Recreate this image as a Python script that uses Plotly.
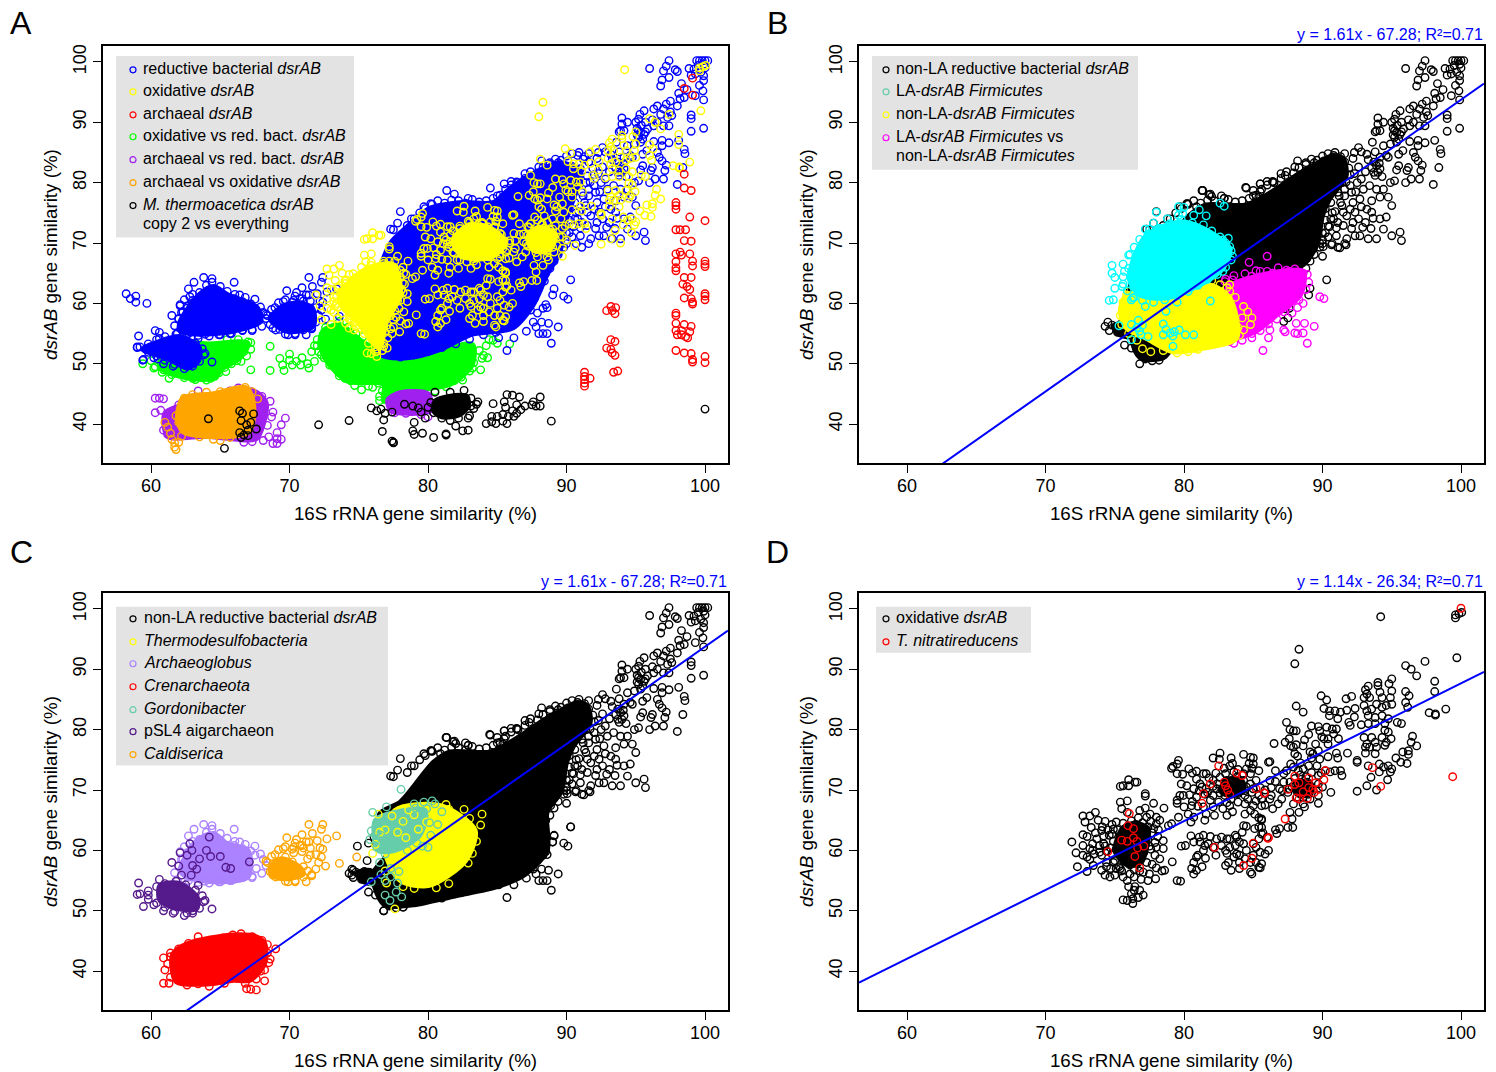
import plotly.graph_objects as go

# ---- values: (16S similarity, dsrAB similarity) ----
oxidative = [(71.9,61.4),(72.2,59.6),(72.3,57.3),(72.7,65.7),(73.2,65.7),(73.6,66.3),(72.85,64.7),(73.3,63.8),(73.8,65),(74.3,64.8),(74.8,64.3),(72.7,62.6),(73,62.3),(72.7,60.8),(72.7,59.2),(73,58.9),(73.2,58.5),(73.4,60),(73.45,57.5),(73,56.5),(74.05,63.3),(73.7,61.9),(74.2,61.1),(74.05,59.2),(74.05,56.7),(74.3,55.9),(74.65,55.6),(75,55.9),(75.4,68),(75.9,68.2),(75.5,66.9),(75.9,66.3),(75.4,70.6),(75.6,70.7),(76,70.7),(76,71.7),(76.45,71.3),(76.6,71.3),(77.2,69.4),(77.2,69),(77.8,67.8),(78.55,67),(77.2,67),(76.8,66.6),(77.55,66),(78,65.5),(78.25,65),(78.87,64.1),(79.1,64.4),(79.6,65.5),(78.15,63.4),(78.5,61.6),(78,60.5),(78.5,60.3),(77.9,59.2),(78.25,58.6),(78.6,56.7),(78.4,56.6),(79.15,58.1),(77.95,55.3),(79.5,55),(79.75,54.9),(77.5,56.1),(77.05,56.4),(77.05,52.6),(76.8,53.4),(76.3,51.2),(75.9,51.7),(75.6,51.8),(76.3,52),(76.2,52.8),(76.45,54),(76,54),(75.6,55.6),(76.1,56.1),(75.4,57),(74.9,58),(74.4,58),(74.8,59.4),
(75.1,60.2),(75.3,61.2),(75.4,62.4),(75.6,59.2),(75.6,60.5),(75.7,63.1),(75.8,58.2),(75.9,59.9),(75.9,62),(76,60.9),(76,63.7),(76.1,57.6),(76.1,58.7),(76.2,61.6),(76.3,60),(76.3,62.7),(76.4,59),(76.5,64.3),(76.5,61),(76.6,57.8),(76.7,60.1),(76.7,62.4),(76.8,63.5),(76.8,58.8),(76.9,61.3),(77,64.6),(77.1,59.7),(77.1,62.8),(77.2,60.9),(77.3,58),(77.4,63.9),(77.4,61.8),(77.6,60.2),(77.6,64.8),(77.7,62.9),(75.2,63.4),(74.9,61.5),(74.7,60.4),(74.6,62.5),(75,58.3),(75.3,57.3),(74.2,62.4),(73.9,60.8),(73.6,62.9),(74.4,59.9),(73.4,61.1),
(79.2,73.9),(79.5,74.3),(79.6,74.9),(79.1,73.6),(79.5,72.7),(79.9,72.6),(80.35,73.5),(80.6,72.8),(80.9,73.1),(81.4,72.7),(82.1,75.3),(82.6,76.1),(82.55,75.1),(83.4,75.3),(83.5,74.4),(84.3,75.9),(84.8,75.4),(85,75.3),(84.7,74.4),(85,74.3),(86.1,74.6),(85.4,73.2),(81.6,72.7),(83,72.7),(83.6,73),(84.3,72.7),(84.8,72.7),(80.9,71.8),(81.15,71),(81.6,70.2),(82.1,71.6),(82.6,72.1),(83.1,71.6),(83.8,72.1),(84.3,71.6),(84.8,71),(85.2,71.6),(84,70.5),(84.5,70.5),(83.4,70.2),(82.35,70.2),(82.1,69.1),(81.9,68.3),(82.5,68),(82.95,69.1),(83.4,68.5),(83.9,69.4),(84.4,69.1),(84.9,69.6),(85.4,69.1),(85.85,70),(86.2,71.6),(85.6,67.4),(85,67.4),(84.4,67.7),(83.9,68),(83.3,67.4),(82.8,66.9),(83.1,65.8),(82.2,65.8),(81.6,66),(81.4,67.2),(80.9,68.8),(80.7,70.2),(80.2,70.7),(79.8,71),(79.95,69.1),(79.7,69.1),(79.5,68.3),(79.5,67.8),(80,67.2),(80.55,67.4),(80.3,66),(80.7,65.5),(81.5,65),(80.5,64.7),(85.1,66),(85.4,65.4),(85.6,65),(84.3,64.1),(84.5,64),(83.8,62.2),(85.1,63.6),(85.4,63.9),(85.6,62.7),(85.4,61.9),(85,61.1),(86,62.2),(86.1,60),(85.85,59.4),
(80.5,62.4),(79.8,60.7),(80.1,60.8),(80.7,61.4),(81.1,62.2),(81.4,62.5),(81.9,62.3),(82.35,61.9),(82.7,62.2),(83.1,61.9),(83.3,61.9),(83.7,62.5),(84.2,63),(81.5,60.8),(81.15,61.4),(81.4,60),(81.75,61.1),(82.1,60.5),(82.7,60.8),(83,60),(83.3,60.5),(83.7,60.8),(84,61.4),(84.3,61.1),(83.8,59.4),(84,59.2),(84.5,60),(85.2,60.5),(85,59.2),(85.5,59.7),(85.6,57.8),(85.2,58),(85.4,57.2),(84.8,58),(84.4,58.6),(84,58),(83.6,58.9),(83.2,58),(83,57.5),(83.4,56.7),(84,57),(84.9,56.1),(84.8,56.4),(85.5,57.1),(80.9,58.9),(80.7,58),(80.55,57),(80.7,56.1),(80.9,56.7),(81.3,57.3),(81.55,58.7),(81,59.2),
(82.4,71),(82.8,70.3),(83.2,70.8),(83.6,69.9),(84,71),(84.4,69.9),(83,69.6),(83.6,71.3),(82.6,69.5),(81.3,70.5),(81.7,69.6),(88.2,70.4),(88.7,70.8),(89,69.3),(88.4,72.5),(87.8,70.5),(88.9,71.3),(88.6,68.8),
(86.2,74.7),(86.6,73.2),(87.2,72.7),(87.4,73.2),(87.9,73.8),(88.25,73.2),(88.6,73.5),(89,74),(89.6,74),(90.2,73.2),(89.7,72.4),(90.55,73),(90.9,73.2),(91.3,73.2),(91.4,72.4),(87.2,71.3),(86.3,70.4),(87.65,71.3),(88.5,71.8),(89.7,71),(90.6,69.6),(89.7,69.1),(89.7,67.8),(89.1,68.5),(88.6,67.7),(87.9,67.7),(87.65,66.3),(88.3,66.3),(88.7,67.2),(87.05,68.5),(86.8,67.7),(86.4,66.9),(85.85,67.5),(86.2,68.5),(85.6,68.5),(87.5,69.6),(88.15,68.8),(88.4,69.9),(87.8,65.2),(87.5,63.8),(87.85,63.8),(86.9,63.6),(86.6,63.4),(86.7,62.8),(85.6,65.2),(85.6,63.8),(85.7,62.9),
(86.5,77.7),(87.3,77.9),(87.6,78.5),(87.4,81.2),(87.65,80),(87.9,79.8),(88.1,79.8),(88.1,83.9),(88.6,82.9),(87.7,77.3),(88.1,77.5),(87.9,77.1),(88,76),(88.2,75.6),(88.7,78.3),(88.6,77.3),(89,79.2),(89.2,80.6),(89.1,76.3),(89.3,76),(89.7,76.5),(90.4,75.5),(91,76.1),(91.1,75.3),(89.8,75.1),(91.8,76.1),(92.5,74.9),(92.5,74.6),(89.5,77.6),(90.1,78.5),(90.4,78.5),(90.4,77.6),(89.95,78.8),(89.7,80.5),(89.8,79.8),(90.3,80.4),(90.7,80.1),(91,80.1),(91.15,78.5),(91.9,81.2),(92,80.7),(90.8,79.3),(92.8,80.8),(93.3,81),(93.8,81),(94.5,81),(93.8,77.9),(93.2,77.6),(94.6,77.9),(94.5,77.4),(93.9,77.1),(93.4,77.1),(93.1,77.1),(93.1,76.1),(93.8,76),(93.55,78.7),(93,78.7),(94.3,78.7),(94.95,78.5),(95.4,81.2),(95.7,81),(94.75,79.6),(94.5,79.9),
(89.9,85.6),(90.3,84.9),(91.7,85.1),(92.1,85.5),(90.1,83.5),(90.5,83.1),(90.9,83.1),(91.3,82.9),(91.75,83.2),(92.35,83.5),(90.5,82.3),(91.1,81.8),(92.3,82.1),(93,85.3),(93.3,87.2),(93.1,86.6),(93.2,85.9),(93.4,85.3),(94.15,86.2),(95,86.4),(94.9,85.3),(96,86.3),(96.25,85.6),(96,84.5),(96.15,83.7),(93,84),(93.2,83.1),(93.55,83.4),(93.9,84.2),(94.3,83.7),(94.6,84),(95,84.2),(93.8,82),(94.3,82.3),(94.75,81.8),(93.3,82.3),(94.3,85.3),(94,87.8),(94,87.3),(94.8,87.6),(95,88.4),
(96.5,78.9),(96.4,77.9),(96.8,77.3),(95.8,76.3),(96.2,76.5),(96.2,75.9),(95.3,75.3),(95.65,74.6),(96.1,74.4),(94.1,74.3),(94.4,73.8),(94.75,74),(95,73.5),(94.9,73),(93.3,74),(94.1,73),(93.5,72.1),(94.7,71.7),(93.2,70.7),(93.9,70),(92.5,69.8),
(88.3,93.3),(88,90.9),(94.2,98.7),(96,90.6),(96.4,90),(96.8,88.9),(97.4,91.3),(98.1,88),(98.1,86.3),(98.9,83.4),(97.7,82.8),(98.15,82.6),(98.15,82.4),(99.7,91.9),(99.6,99),(99.6,98.5),(99.85,99.2),(100.05,99.4),
(73.2,60.3),(73.5,59.4),(73.9,59.7),(74.3,60.7),(74.1,63.9),(74.5,63.4),(74.8,62.7),(74.9,63.5),(74.4,57.3),(74.7,57),(75.1,57),(75.5,56.6),(77.5,60.7),(77.9,61.3),(78.1,62.3),(77.8,63.6),(78,64.4),(77.3,65.5),(76.7,65.4),(76.2,64.9),(75.6,64.5),(75.1,64.7),(76.4,56.8),(76.8,56.6),(76.4,55.6),(76.9,55.2),(75.9,55),(76.4,53.4),(76.7,52.2),(77.4,55),(77.7,57.7),(78,57.1),(81.8,72),(82.3,72.8),(82.9,73.6),(83.3,74),(83.9,73.4),(84.5,73.5),(84.9,73.6),(82.1,70.6),(81.5,69.3),(81.1,69.9),(80.4,69.2),(80.6,68.1),(81,67.3),(82.1,67.2),(83.1,67.9),(84.6,68.5),(85.2,68.2),(83.5,66.4),(84.8,66.6),(84.4,66),(85,70.2),(85.5,70.4),(86.3,69.1),(86.9,70.2),(86.6,71.4),(87.1,69.9),(87.6,70.2),(88,71.9),(88.8,72.2),(89.2,72.9),(90,70.5),(89.9,72.8),(87.7,74.3),(88.4,74.5),(89.2,75.3),(83.1,59.5),(82.3,59.2)]

oxidative_cores = [[(75,60),(75.6,63.8),(76.5,64.5),(77.4,63.6),(77.3,60.5),(76.9,58),(76,57.5),(75.3,58.8)],
                   [(82.6,70),(83.2,71.8),(84.2,71.5),(84.3,69.8),(83.3,69)],
                   [(88,69.8),(88.3,71.4),(89.2,71),(89.2,69.5),(88.4,69)]]

t_nitratireducens = [(74.5,59.8),(75.5,61.7),(75.9,61.5),(76.05,66.1),(75.95,64.1),(76.35,63.6),(76.35,62.1),(76.6,61.5),(76.65,60.4),(77.1,60.7),(76.45,59),(76.8,57.1),(81.9,71),(81.4,69.4),(81.3,67.8),(82.5,74),(82.9,71.3),(83,70.7),(83.15,70),(83.3,69.2),(83.8,72.8),(84.2,72.4),(85.2,70.2),(85.8,69.5),(82.2,60.5),(84.3,57.5),(84.9,58.7),(85,61.2),(86.05,62),(100,100.1),(99.4,72.2),(93.6,73.7),(94.2,70.6),(90.2,73.2),(90.1,71.7),(89,72),(89.5,71.2),(88,72.3),(88.3,71.2),(88,70.9),(87.5,70.1),(89,70.4),(89.7,70.1),(89.3,70.1),(89.4,69.6),(88.6,69.7),(88.1,68.7),(88.3,68.5),(88.9,68.6),(85.8,69.5),(87.3,65.2),(86.1,62.1)]

reductive_upper = [(99.4,100.2),(99.6,100.2),(99.8,100.2),(100,100.2),(100.2,100.2),(97.4,100.2),(96,98.9),(97.2,99.3),(97,98.5),(97.85,98.7),(98,98.4),(97.4,97.4),(96.9,97),(96.8,96),(98.85,98.9),(99,97.8),(99.2,98.8),(99.3,98),(99.9,97.7),(99.9,96.9),(99.6,96.1),(98.3,96.4),(98.7,95.4),(99.85,95.2),(99.3,94.4),(99.9,93.7),(98.1,94.8),(98.5,94.1),(98.2,93.9),(97.5,93.5),(97.2,93),(98,92.7),(96.56,92.7),(96.3,92.2),(97,92.2),(97.5,91.7),(96.8,91.3),(97.3,90.8),(97.6,91.1),(95.6,91.9),(95.3,91.3),(95.2,90.5),(94,90.7),(94.4,90),(95,90),(95.7,90),(96.2,90.4),(96.56,90),(97,89.4),(97.4,89.4),(99,91.2),(99,90.6),(94,89.7),(93.9,88.6),(94.15,88.6),(93.8,88.4),(99,88.5),(99.9,89),(95.35,88.3),(95.2,87.5),(95.6,88),(95.85,88.9),(96.3,89.4),(93.6,86.7),(96.9,87),(97.4,86.6),(96.9,86.1),(98.1,87),(96.3,86.8),(94.4,86.1),(94.9,86.4),(95.35,86.7),(95.8,85.3),(95.5,84.7),(94.75,84.2),(98.5,85.5),(98.55,84.8),(96.56,85),(96.7,84.2),(96.9,83.6),(97.2,82.9),(98.4,82.5),(96.2,82.5),(96.1,82),(95.5,82.8),(95.35,82.1),(97.1,82),(97,80.6),(96.4,80.6),(96,80),(98,79.7),(92.3,85),(92.8,85.1),(93.2,84.7),(93.8,85.1),(94.15,84.2),(94.6,84.5),(92.6,85.8),
(92,79.5),(92.5,80),(92.95,78.9),(93.4,79.5),(93.9,78.9),(94.4,78.9),(94.9,80),(95.2,80.3),(94.15,77.6),(93.55,77),(92.7,77.3),(92.2,76.7),(92,75.6),(91.75,74.5),(92.35,75.1),(93.1,73.4),(93.55,75.1),(93.65,74.1),(94.15,74),(94.6,74.3),(94.75,77.6),(95,76.2),(91.5,72.9),(92.1,72.4),(92.7,71.2),(93.3,70.7),(93.9,70.7),(94.4,72.3),(95,71.2),(95.6,71.8),(95.7,70.4),(92.35,71.2),(91.6,69.9),(91.1,69.3),(90.7,69.9),(90,69.9),(91.75,70.7),(91,71.2),(90.8,74),(91.1,73.4),(91.5,75.1),(91.3,76.7),(91.1,78.4),(92.1,78.4),(92.8,80.6),(93.7,81.7),(93.9,82.8),(93.7,83.4),(94,81.7),(93.55,82.5),(93.8,81.2),(94.15,82.3),(95.1,87.9),(95.5,87.2),(95.2,88.6),(95.7,88.4),
(90.1,83.6),(90.8,84.5),(91.2,83.9),(90.4,82.7),(91,82.3),(91.5,81.1),(90.7,80.9),(90.9,79.7),(91.4,80),(90.5,78.8),(90.1,77.6),(90.6,76.7),(90.2,75.7),(90.7,75),(90.2,73.8),(90.5,72.7),(90,71.6),(90.4,71),(91,72.5),(92.4,78.5),(92.8,76),(93.2,75.6),(92.6,74),(92.2,73.4),(92.9,72.6),(93.5,72.4),(91.6,77.8),(92.3,81.5),(92.6,82.6),(92.2,84),(91.6,84.8),(93.3,83.8),(94.1,83.2),(94.3,81),(93.1,81.8),(95.1,89),(95.4,89.5),(99.5,99.4),(99.9,99.6),(100,99),(99.7,98.3)]

band_fuzz = [(78.5,72.9),(79,74),(79.4,75),(79.8,75.7),(80.2,76.5),(80.7,77),(81.2,76.6),(81.7,77.1),(82.2,77),(82.7,76.6),(83.2,77.2),(83.7,76.8),(84.2,77),(84.7,77.4),(85.2,77.9),(85.6,78.9),(86,79.6),(86.5,80),(87,80.7),(87.4,81.8),(87.9,81.6),(88.3,82.5),(88.8,83),(89.2,83.9),(89.6,83.7),(90,84.4),(90.4,84.8),(90.9,85),(91.3,84.3),(91.6,83.4),(91.9,82.4),(92,81.3),(91.7,80.1),(91.6,78.9),(91.2,77.8),(91.4,76.2),(90.9,75.2),(90.6,74),(90.4,72.8),(90.2,71.7),(90,70.5),(89.8,69.3),(89.4,68.1),(89.1,67),(88.8,65.8),(88.5,65),(88.4,63.7),(88,62.5),(87.7,60.9),(87.2,59.6),(86.8,58.5),(86.3,57.3),(85.6,56.3),(84.9,55.2),(84,54.8),(83,54.1),(82,53.3),(81,52.7),(80,52),(79,51.5),(78,51.1)]

reductive_edge = [(90.3,63.9),(89.8,61.2),(90.1,60.7),(89.1,62.4),(88.7,56.7),(89.4,56.1),(88.9,53.4),(85.7,52.2),(88.3,55),(88.6,55),(88,55),(88.5,59.8),(88.3,59.2),(89,61.4),(87.1,55.4),(86.2,54.3),(85.1,54.3),(87.6,56.9),(87.9,58.4),(87.4,58.9),(88.6,59.3),(88.2,56.9),(87.8,56.1),
(78,75.2),(77.8,73.3),(78.8,74),(79.7,76),(80.3,76.4),(81.35,78.7),(81.9,78.1),(82.9,77.4),(84.5,79.1),(85.5,79.8),(86.4,80.1),(88.2,83.6),(89.4,83.3),(77.3,72.3),(77.5,72.2),(85,77.8),(85.4,77.6),(86,80.2),(87,81.5),(88.8,83.3),(88,82.6)]

reductive_left_a = [(58.2,61.6),(58.5,60.8),(58.9,60.2),(58.9,61.2),(59.7,60),(60.6,54.2),(60.3,55.5),(59,52.8),(60,52.2),(59.4,50.6),(60.2,51.9),(60.5,50.8)]

archaeoglobus = [(63.8,64.3),(64.4,64.1),(66,63.5),(62.7,62.4),(63.1,63.5),(67.5,60.7),(67.5,59.2),(67.6,57),(67.3,55.5),(66.4,61.4),(66.05,61.5),(64.9,54.8),(62.8,55.6),(62.3,58.6),(62.1,59.8),(62.4,60.6),(63,61.5),(66.8,61),(67,58),(66.6,55.6),(65.7,55),(63.9,54.9),(63.6,55.2),
(61.9,55),(61.7,56.3),(62,57.5),(62.2,58.5),(62.6,59.6),(63,60.5),(63.5,61.8),(64,63),(64.4,63.5),(65,62.8),(65.5,62),(66,60.8),(66.6,60.3),(67.2,59.9),(67.9,59.4),(68.1,58.5),(68.3,57.5),(68,56.2),(67.3,55.7),(66.6,55.5),(65.8,55),(65,54.8),(64.2,54.6),(63.4,54.7),(62.7,55)]
psl4_pts = [(62.1,59.6),(62.6,59.2),(62.95,60),(64,60),(64.3,59),(63.5,58.6),(63,57.5),(63.3,56.9),(62.9,55.9),(62.2,55.9),(61.5,58),(62,57.4),(62.8,61.1),(64.2,62.2),(65,59),(65.4,57.2),(65.75,57),(67.1,58.1),(63.4,54.2),(63.9,51.7),(64.4,50.3),(59.1,54.6),(59,52.7),(59.45,50.7),(60.6,55.2),(59.8,52.6),(60.2,51),(60.9,50),(61.6,49.6),(62.6,49.6),(63,50),
(59.2,52.8),(59.8,53.3),(60.4,54),(61,54.5),(61.8,54.9),(62.5,54.3),(63.2,53.4),(63.7,52.5),(63.8,51.5),(63.5,50.4),(63,49.6),(62.4,49.2),(61.7,49.9),(61,50.6),(60.4,51.3),(59.8,51.9)]
caldiserica = [(71.4,64.3),(72.4,64.3),(72.3,63.5),(70.9,62.6),(71.65,62.8),(69.8,62.1),(72,61.6),(72.7,61.9),(73.4,62.4),(71.2,61.4),(70.76,60.8),(72.2,60.4),(70.2,60.2),(69.55,60.3),(68.95,59.3),(68.3,58.2),(71.5,59.2),(73.6,57.85),(72.6,57.4),(71.6,55.8),(71.2,54.8),(70.4,54.8),(69.9,54.8),(68.8,55.9),(70.3,59.6),(70.9,59.8),(71.3,58.6),(71,57.3),(71.3,56.6),
(68.4,58),(68.7,59),(69.2,60.1),(69.7,60.6),(70.3,60.5),(70.9,60.8),(71.5,60.4),(71.9,59.3),(72.1,58),(71.9,56.9),(71.6,56),(71,55.6),(70.4,55),(69.7,54.9),(69,55.6),(68.6,56.5),(72.3,58.9),(72.4,60.2),(71.4,61.4),(70.5,61.8),(69,57.9),(69.7,58.9),(70.2,58.1),(70.6,56.3),(70,55.6),(69.3,55.7),(70.4,61.2),(71,60.4)]
caldiserica_far = [(74.85,58.9)]

archaeal = [(97.9,65.9),(97.9,65.4),(99.1,66.2),(100,66.5),(100,66.1),(98.5,64.3),(99,64.3),(98.4,63.2),(98.7,62.8),(98.9,62.3),(100,61.6),(100,61.2),(100,60.6),(98.5,60.9),(99,60.8),(99.1,59.9),(99.1,60.2),(97.9,58.4),(97.9,58),(97.9,56.7),(98.5,56.5),(99,56.2),(98.9,55.3),(97.9,55.5),(98.3,55.5),(98,54.8),(98.3,54.8),(98.6,54.5),(98.75,54.3),(97.9,52.2),(98.5,51.8),(99,51.7),(99.1,50.7),(99.1,50.3),(100,51.2),(100,50.2),(92.9,58.8),(93.2,59.5),(93.55,59.3),(93.3,58.8),(93.5,58.3),(93.2,54),(93.5,53.7),(92.9,52.6),(93.2,52.4),(93.5,51.4),(93.3,51.8),(93.4,48.6),(93.7,48.8),(91.3,48.6),(91.3,47.9),(91.7,47.6),(91.3,47.4),(91.3,46.8),(91.3,46.3),(99.1,97.3),(98.5,95.6),(99.1,94.5),(98.5,81.4),(98.5,79.1),(99,78.7),(97.9,76.7),(97.9,76.2),(97.9,75.6),(98.9,74.3),(100,73.7),(97.9,72.2),(98.2,72.2),(98.6,72.2),(98.5,70.4),(99,70.3),(97.9,68.2),(98.2,68.5),(98.3,68),(98.9,68.2),(97.9,66.9),(99.1,67),(100,67)]

moorella = [(64.14,40.9),(65.3,36),(66.4,42.2),(66.6,41.8),(66.5,40.6),(66.9,39.9),(67,39),(66.4,38.6),(66.7,38.2),(67,38.1),(66.5,37.8),(67.4,41.7),(67.2,40.3),(67.6,39.2),(72.1,39.9),(74.3,40.6),(75.9,42.7),(76.3,42.2),(76.6,42.5),(76.9,41.8),(76.8,40.7),(76.7,38.8),(77.4,37.2),(77.5,37),(77.5,36.9),(77.4,42),(78.3,43.3),(78.9,43),(79.3,42.7),(79.5,42),(80,42.8),(79.8,41),(79,40.3),(78.9,38.9),(79,38.3),(79.6,38.5),(80.4,37.8),(81.3,38.2),(81.3,38.4),(81.6,40.6),(82,39.7),(82.5,38.9),(82.9,39),(82.9,41),(83,41.4),(83.1,43),(83.5,43.3),(83.6,43.7),(82.6,45.6),(80.5,45.3),(84.2,40.1),(84.6,40.4),(84.9,40.1),(84.6,41.3),(85,41.3),(85.4,40.5),(85.7,40.1),(85.4,41.6),(85.8,41.3),(86.2,41.3),(86.4,41.8),(86.1,42.2),(85.6,42.8),(86.7,42.4),(86.4,43.2),(87,43),(87.5,43.2),(87.6,43.7),(87.8,43),(88.1,44.5),(88.1,43),(88.9,40.5),(100,42.5),(84.7,43.4),(85.5,43.7),(85.7,44.9),(86.1,44.8),(86.6,44.5),(83.3,42.6),(80.2,43.6),(80.4,41.9),(81,41),(82.2,41),(83.1,44.3),(81.6,45.3)]
moorella_core = [(80.5,43.8),(81.5,44.6),(82.8,44.6),(82.9,43),(82.3,41.6),(81,41.2),(80.4,42.2)]

green_pts = [(59.4,50),(60.2,49.3),(60.9,49),(61.3,47.6),(62.1,48.5),(63,47.6),(63.8,47.8),(64.3,47.6),(64.9,48.5),(65.3,49.4),(66.2,50.5),(66.7,52),(67.2,53.5),(67.2,49),(68.6,52.9),(68.6,48.9),(69.3,50.9),(69.5,49.8),(69.6,48.9),(70,51.6),(70,50.6),(70.2,49.8),(70.5,50.4),(70.8,49.8),(70.9,51),(71.3,50),(71.4,49.3),(71.6,52),(71.8,50.4),(72,53),(72.3,51.5),(72.9,49.8),(73.6,48.8),(73.6,48),(74,47.6),(74.4,47.2),(74.7,46.4),(75.2,45.7),(75.7,46.3),(76,46.1),(76.5,44.6),(76.5,43.9),(84.4,54),(84.7,53.9),(85.9,53.3),(84,51.4),(84.3,51),(83.2,49.3),(83.8,49),(82.5,47.3),(78.1,46),
(72.6,56),(73,55.3),(73.6,57),(74.2,56),(74.8,55),(75.3,54.5),(72,54),(71.8,53),(72.1,52),(72.5,51),(73,50),(73.4,49.3),(73.9,48.6),(74.5,48),(75,47.2),(75.7,47.5),(76.4,46.8),(76.7,45.5),(77,44.5),(77.3,43.7),(78,44.2),(78.8,45.2),(79.6,45.8),(80.5,45.5),(81.3,46.2),(81.9,47.2),(82.4,47.8),(83,48.8),(83.3,50.2),(83.9,50.9),(83.7,52.2),(84.2,53),(85,53.4),
(60,50.5),(60.3,49.5),(60.8,48.6),(61.5,48.2),(62.4,47.7),(63.2,47.4),(64,47.3),(64.6,47.9),(65.4,48.7),(65.8,50),(66.5,50.4),(66.9,51.3),(67.2,52.4),(67,53.6),(66.3,54),(65.5,54),(61.2,53.5)]
green_lobe_core = [(61.6,53.7),(64,53.3),(67,53.4),(66.4,50.9),(65.2,49.3),(64.5,47.6),(62.3,47.8),(60.6,49.6)]
green_main_core = [(72.4,55.4),(73.6,56.5),(75.6,53.2),(79.4,51.5),(83.2,53.2),(83.2,49.9),(81.6,46.6),(78.7,45.5),(76.8,43.8),(76.8,46.6),(74.2,47.1),(72.7,50.4),(72.2,53.2)]

blue_main_core = [(76.5,51.7),(76.3,60),(76.6,66),(77.3,70),(78.4,72.5),(80.1,75.7),(82.5,76.7),(84.7,76.7),(85.9,79),(87.6,81.5),(89.5,83.3),(91,82),(91,80.7),(90,74),(89.5,68.4),(88.6,64.8),(87.6,59.8),(86.1,55.9),(83.2,54.9),(80.9,52.4),(78.5,51)]
blue_lobe1_core = [(62.1,57),(63.5,61.5),(64.5,62.8),(65.5,61.5),(67.7,59.2),(67.9,57),(65.9,55.4),(63.5,54.9),(62.1,55.4)]
blue_lobe2_core = [(68.6,57.5),(69.5,59.5),(70.2,60),(71.2,59.8),(71.7,59),(71.7,56.2),(69.8,55.4)]
blue_lobe3_core = [(59.4,52.4),(60.6,53.7),(62.1,54.5),(63.5,52.6),(63.4,50.4),(62.6,49.3),(61.2,50.9)]

yellow_core_a1 = [(73.6,61.5),(75.6,65.8),(77.5,66.4),(78,61.5),(77,57),(76.5,52.6),(76,53.5),(74.9,57),(73.9,59.2)]
yellow_core_a2 = [(81.8,70.5),(83,73),(84.5,72.5),(85.6,70),(84.5,67.6),(82.5,67.8)]
yellow_core_a3 = [(87.2,71),(88,72.6),(89.2,71.5),(88.8,69),(87.6,68.8)]
yellow_fuzz_a = [(73.2,61),(73.5,62.6),(74,63.7),(74.6,64.9),(75.2,66),(75.9,66.8),(76.8,67),(77.6,67),(78.2,66),(78.4,64.8),(78.3,63.2),(78.2,61.8),(77.8,60.4),(77.6,58.8),(77.5,57.3),(77.3,55.8),(77.1,54.3),(76.8,52.9),(76.2,52),(75.7,53.4),(75.4,55),(74.8,56.2),(74.3,57.4),(73.8,58.4),(73.3,59.6),(81.4,69.8),(81.6,71.3),(82.3,72.4),(83,73.4),(83.9,73.2),(84.8,72.6),(85.3,71.4),(85.9,70.4),(85.7,68.9),(85.2,67.7),(84.3,67.2),(83.3,67),(82.3,67.2),(81.8,68.5),(86.9,71.5),(87.3,72.6),(88.2,73),(89,72.3),(89.5,71),(89.3,69.6),(88.6,68.6),(87.8,68.4),(87.2,69.5)]

purple_pts = [(60.3,44.3),(60.6,44.3),(60.9,44.2),(60.3,41.9),(60.7,42.3),(60.9,39),(61.2,38.3),(62,43.2),(63.4,45.5),(65.7,45.5),(66.3,46),(67.2,45.4),(68,44.6),(68.6,43.8),(68.8,42),(69.7,41),(68.7,41.2),(68.4,39.8),(69.4,39.9),(69.1,38.6),(69.1,37.6),(69.1,36.8),(68.8,36.8),(68.5,37.9),(69.4,37.5),(68.1,37.3),(67.3,37.1),(66.7,37),(67.5,43.9),(80,41.2),(79.5,41.6),(78.4,41.8),(77.6,41.9)]
purple_core1 = [(61,41.8),(62,43),(63.5,44),(67.4,45.5),(68.3,43.6),(68.1,40),(67.6,37.6),(66.7,37.4),(64,38),(61.2,38)]
purple_core2 = [(77.1,44),(78,45.2),(80,45),(80.2,42.3),(78.5,41.8),(77.3,42.3)]

orange_pts = [(61,40.3),(61.2,39.5),(61.4,38.5),(61.5,37.5),(61.7,36.9),(61.7,36.2),(61.8,35.8),(62,37),(62.2,38),(62,40.3),(61.8,41.4),(62.4,44.3),(63,44.9),(64,45.3),(65,45.4),(65.7,45.4),(66.8,46.1),(67.3,45.4),(67.7,44.2),(66.5,44.7),(63.5,37.9),(64.5,37.5),(65,37.3),(65.7,37.8)]
orange_core = [(62.3,44.3),(64.4,45),(66.9,46),(67.4,43.2),(67.1,38.8),(64.7,37.9),(62.3,38.8),(61.9,41)]

crenarchaeota_pts = [(60.9,42.2),(61.4,42.4),(63.4,45.7),(69,43.7),(61,40.2),(60.9,38),(68.2,38.4),(67.6,36.9),(66.9,37.1),(67.2,37),(61.4,39),(61.3,38),(62.7,44.6),(64,44.9),(65.9,46),(66.5,46.2),(67.3,45.7),(68,45.1),(68.4,44.4),(68.4,43),(68.5,41.4),(68.2,40.2),(67.6,38.7),(66.8,38),(64.2,37.5),(62.6,37.7),(61.2,41.2),(61.4,43),(62,43.7),(63,43.6),(64.5,45.1),(65.2,45.5),(66.2,45.4),(67.9,40),(68.6,42),(65.3,38),(63.4,37.9)]
crenarchaeota_core = [(61.6,42.9),(62.7,44.6),(65.95,46),(67.6,45.7),(68.2,44.6),(68.2,41.3),(67.15,38.5),(65.95,38.5),(64.26,37.9),(61.85,38.2),(61.5,40.7)]

archaeoglobus_core = [(62.1,56.7),(63.3,61.6),(64.5,62.8),(65.5,61.1),(67,60),(67,55.6),(64.7,54.8),(62.6,55.6)]
psl4_core = [(60.65,54.2),(62.1,54.5),(63.3,52.3),(63.3,50.4),(61.85,50.4),(60.65,51.7)]
caldiserica_core = [(68.6,57.2),(69.4,58.6),(70.75,57.2),(71,56.1),(69.8,55.3),(68.7,55.9)]

reductive_black_core = [(76,56),(77.2,60),(76.5,66),(78,68),(80.4,74.6),(81.6,76.3),(84.5,76.3),(86.7,79),(88.1,81.2),(89.3,82.8),(90.8,84.5),(91.5,83.9),(91.7,81.1),(90.5,77.3),(90,74.6),(89.6,69.7),(88.6,66.4),(88.6,60),(87,56),(85,54),(82,52.5),(79,51),(77,50.8),(76.5,52)]
firmicutes_black_core = [(76,58),(76.5,66),(78,68),(80.4,74.6),(81.6,76.3),(84.5,76.3),(86.7,79),(88.1,81.2),(89.3,82.8),(90.8,84.5),(91.5,83.9),(91.7,81.1),(90.5,77.3),(90,74.6),(89.6,69.7),(88.6,66.4),(87,65),(84,63),(81,58),(79,52.2),(78.5,51),(77,50.8),(76.5,52)]

firmicutes_black_pts = [(81.3,78.7),(81.8,78),(82,77.7),(82.7,77.8),(80.25,76.5),(80.9,76),(82.9,77.4),(84.45,79.2),(85,78.7),(85.5,79.8),(85.5,78.5),(86.4,80.2),(87.3,81.2),(90,67.8),(90.3,63.9),(89.1,62.5),(89,61.4),(87.6,59.2),(87.3,59.1),(87.5,57.6),(87.2,57),(76.8,50),(77.2,50.8),(77.7,50.5),(78.2,50.6),(74.5,56.9),(74.3,56.2),(74.6,55.5),(75.6,55.9),(75.7,53.1),(76.2,52.6),(76.1,62.2),(91.25,69.2),(90.05,69.4),(90.65,69.7),(91.7,69.7),(89.8,70),(89.1,68.6),(88.85,67.4),(87.9,66.9),(87.4,67.2),(74.8,56.4),(75.2,55.2),(75.4,56.5)]
black_left_core = [(74.9,56.3),(75.9,56.6),(76,54.5),(75.2,55)]

cyan_pts = [(78,75.1),(77.8,73.3),(78.8,74),(79.6,76),(80,75.9),(79.6,74.6),(79.9,74.9),(82.6,76.6),(82.9,76.1),(77.2,72.3),(77.5,72.3),(79,72.7),(81.1,75.5),(81.6,74.5),(80.7,74.6),(77.3,70.1),(76.1,68.1),(74.8,66.3),(74.8,65),(75,64.3),(75,62.5),(74.6,60.5),(74.9,60.6),(75.6,64.4),(75.55,62.8),(76,65.8),(76.2,64.2),(76.2,60.6),(76.3,60.9),(77.2,59.5),(78.7,58.7),(79.5,60.2),(81.9,60.4),(75.3,56.3),(76.7,57.2),(76.2,56.5),(76.8,55.4),(77.4,54.5),(76.2,54),(78.5,56.6),(78.5,54.8),(79,55.1),(79.3,55.3),(79.65,55.6),(80.1,54.8),(80.7,54.8),(79.2,52.9),(83.3,69.4),(83.5,67.8),(82.8,65.3),(83.2,70.8),(82.8,70.5),(76.6,56),(77,56.4),(76.9,54.8),(78.7,55.7),(79.2,54.6),
(75.6,66.5),(76,68),(76.4,69.3),(76.8,70.6),(77.4,71.5),(78.2,72.4),(79,73.2),(79.8,73.9),(80.6,73.3),(81.4,73),(82,72),(82.6,71),(83,70),(83.4,68.7),(83.4,67.2),(83,66),(82.4,64.8),(81.7,64),(81,63),(80.3,62),(79.5,61.5),(78.6,60.6),(77.8,60.2),(77,60.5),(76.4,61),(75.9,62.1),(75.6,63.2),(75.7,65.3)]
cyan_core = [(76.3,67),(77.3,71.3),(79.7,73.5),(81.4,72.4),(83.3,69.1),(82.8,65.8),(81.1,63),(78.7,60.9),(76.8,61.4),(76.1,63.6)]
magenta_pts = [(84.7,66.8),(86,67.8),(89.8,61.1),(90.1,60.8),(89.4,56.2),(88.9,53.4),(85.7,52.2),(88.6,60),(88.2,59.3),(87.8,58.4),(88.7,56.7),(88.1,56.7),(88.6,55.1),(88.2,55),(88,55.1),(87.2,55.6),(87.3,55.3),(86.2,55.6),(86.1,54.3),(84.9,54.3),(82.2,53.3),(83.3,53.7),(85.5,65.3),(88.6,65),(86.4,65),(83.5,63.9),(82.95,63.6),(84.9,64.5),(87.6,65.3),(88.4,62.5),
(83,64),(83.6,64.6),(84.4,64.9),(85.2,65.4),(86,65.3),(86.8,65.9),(87.4,65.5),(88,65.7),(88.9,64.8),(89,63.5),(88.8,62.3),(88.3,60.6),(87.5,59.8),(87.2,58.6),(86.7,57.4),(86.1,56.6),(85.5,55.5),(84.9,55),(84.2,53.9),(83.6,53.4),(83.9,55),(83.4,56),(83.3,57.5)]
magenta_core = [(83.1,62.5),(84.75,64.2),(88.6,65.3),(88.4,61.4),(86.7,58.1),(85.2,55.4),(83.5,54.3),(83.6,58)]
yellow_b_pts = [(75.4,58),(75.6,60.2),(75.85,61.4),(76,62),(75.5,56.5),(77,52.5),(77.6,52),(78.5,52.2),(79.5,51.8),(81,52.4),(81.8,53.2),(83.3,54.2),(84,54.7),(84.3,55.6),(84.8,56.5),(84.9,57.6),(84.2,57.6),(84.6,58.6),(84.3,59.5),(83.3,60),(83.3,62),(83.1,62.6),(82.6,63.1),(83.3,63.1),(76,55),(76.6,53.9),(75.6,58.7),(80.3,52),(82.5,53.5),(83.9,56),(83.7,61),(82,63.8),(81.2,63.4),(80,62.1)]
yellow_b_core = [(75.85,61.4),(79.2,61.4),(81.9,63),(83.3,60.9),(83.8,54.3),(81.4,52.6),(79.2,52),(77.3,54.2),(75.85,55.9),(75.4,58.7)]

thermodesulfo_pts = [(77.6,50.3),(76.4,66),(76.5,63),(76.2,61),(76,59.5),(77,54.6),(78.2,54),(79,53.7),(83.8,64.2),(83.9,66),(83.5,61.5),(83.2,59.5),(82.9,57.9),(81.5,54.5),(80.6,53.8),(76.9,56.6),(81.3,67.6),(82.6,66.8),(77.4,65.7),(78.2,64.8),(79,65.9),(77.8,63),(78.4,62.1),(79.3,63.5),(76.9,63.4),(79.9,64.7),(78.6,66.7),(80.3,66.4),(81.5,66.8),(83,65.3)]
thermodesulfo_core = [(77.6,66.6),(80.9,67.4),(83.4,63.3),(82.7,58.3),(80.1,54.2),(78,55),(76.9,60)]
gordonibacter_pts = [(78.05,70.1),(76.3,64.5),(76.3,61.9),(76.3,60.5),(79.7,68),(79,67.7),(75.9,54.8),(76.9,55),(76.9,52.6),(77.25,51.7),(77.7,53.1),(78.1,52.3),(76.6,56),(77.3,55.6),(77.8,54.6),(77.3,57),(76.5,58),(77.9,56.5),(80.1,64.6),(79.6,60.7),(80,60.5),(79.9,66.9),(80.3,68.2),(76.6,62.5),(77.2,61.3),(76.9,59.4),(78.5,60),(79.2,61.2),(80.2,62.5),(80.7,64.3),(81,66.4),(80.5,67.7),(79.1,67),(77,67.2),(76,66.3),(75.9,63.2),(75.8,61.8)]
gordonibacter_core = [(76.2,65),(77.6,66.3),(79.8,66.6),(79.4,62.5),(77.6,60),(76.4,60)]
black_c_pts = [(76.8,50),(78.2,50.6),(74.9,60.7),(75.7,61.2),(75.6,58.3),(74.6,56.7),(74.5,55.9),(77.6,51.3),(78.9,51.6),(80,52.5),(81,52.1),(82.4,53)]

# fits: slope, intercept, printed equation
fit_b_slope, fit_b_intercept = 1.61, -67.28
fit_d_slope, fit_d_intercept = 1.14, -26.34
fit_label_all = "y = 1.61x - 67.28; R²=0.71"
fit_label_ox = "y = 1.14x - 26.34; R²=0.71"

x_ticks = [60, 70, 80, 90, 100]
y_ticks = [40, 50, 60, 70, 80, 90, 100]
X_RANGE = [56.53, 101.66]
Y_RANGE = [33.55, 102.64]

# colours
BLUE, YELLOW, RED, GREEN, PURPLE, ORANGE, BLACK = "#0000ff", "#ffff00", "#ff0000", "#00ff00", "#a020f0", "#ffa500", "#000000"
CYAN, MAGENTA, AQUA, LAVENDER, DARKPURPLE = "#00ffff", "#ff00ff", "#66cdaa", "#ab82ff", "#551a8b"
FONT = "Liberation Sans, Arial, sans-serif"
W, H = 1496, 1072

fig = go.Figure()


def pts(axis, data, color):
    fig.add_trace(go.Scatter(x=[p[0] for p in data], y=[p[1] for p in data], mode="markers",
                             xaxis="x" + axis, yaxis="y" + axis, showlegend=False, hoverinfo="skip",
                             marker=dict(symbol="circle-open", size=7.5, color=color, line=dict(width=1.4, color=color))))


def core(axis, data, color):
    fig.add_trace(go.Scatter(x=[p[0] for p in data] + [data[0][0]], y=[p[1] for p in data] + [data[0][1]],
                             mode="lines", fill="toself", fillcolor=color,
                             xaxis="x" + axis, yaxis="y" + axis, showlegend=False, hoverinfo="skip",
                             line=dict(color=color, width=5, shape="spline", smoothing=0.8)))


def fit(axis, slope, intercept):
    xs = X_RANGE
    fig.add_trace(go.Scatter(x=xs, y=[slope * v + intercept for v in xs], mode="lines",
                             xaxis="x" + axis, yaxis="y" + axis, showlegend=False, hoverinfo="skip",
                             line=dict(color=BLUE, width=2)))


# ---- Panel A ----
core("", green_lobe_core, GREEN); core("", green_main_core, GREEN); pts("", green_pts, GREEN)
for c in (blue_main_core, blue_lobe1_core, blue_lobe2_core, blue_lobe3_core):
    core("", c, BLUE)
for p in (reductive_upper, band_fuzz, reductive_edge, reductive_left_a, archaeoglobus, psl4_pts, caldiserica):
    pts("", p, BLUE)
for c in (yellow_core_a1, yellow_core_a2, yellow_core_a3):
    core("", c, YELLOW)
pts("", oxidative, YELLOW); pts("", yellow_fuzz_a, YELLOW)
core("", purple_core1, PURPLE); core("", purple_core2, PURPLE); pts("", purple_pts, PURPLE)
core("", orange_core, ORANGE); pts("", orange_pts, ORANGE)
core("", moorella_core, BLACK); pts("", moorella, BLACK)
pts("", archaeal, RED)

# ---- Panel B ----
core("2", firmicutes_black_core, BLACK); core("2", black_left_core, BLACK)
pts("2", reductive_upper, BLACK); pts("2", band_fuzz[:45], BLACK); pts("2", reductive_edge[23:], BLACK); pts("2", firmicutes_black_pts, BLACK)
core("2", magenta_core, MAGENTA); pts("2", magenta_pts, MAGENTA)
core("2", yellow_b_core, YELLOW); pts("2", yellow_b_pts, YELLOW)
core("2", cyan_core, CYAN); pts("2", cyan_pts, CYAN)
fit("2", fit_b_slope, fit_b_intercept)

# ---- Panel C ----
core("3", reductive_black_core, BLACK); core("3", black_left_core, BLACK)
pts("3", reductive_upper, BLACK); pts("3", band_fuzz, BLACK); pts("3", reductive_edge, BLACK); pts("3", black_c_pts, BLACK)
pts("3", firmicutes_black_pts, BLACK)
core("3", thermodesulfo_core, YELLOW); core("3", gordonibacter_core, AQUA)
pts("3", thermodesulfo_pts, YELLOW); pts("3", gordonibacter_pts, AQUA)
core("3", archaeoglobus_core, LAVENDER); pts("3", archaeoglobus, LAVENDER)
core("3", psl4_core, DARKPURPLE); pts("3", psl4_pts, DARKPURPLE)
core("3", crenarchaeota_core, RED); pts("3", crenarchaeota_pts, RED)
core("3", caldiserica_core, ORANGE); pts("3", caldiserica, ORANGE); pts("3", caldiserica_far, ORANGE)
fit("3", fit_b_slope, fit_b_intercept)

# ---- Panel D ----
for c in oxidative_cores:
    core("4", c, BLACK)
pts("4", oxidative, BLACK)
pts("4", t_nitratireducens, RED)
fit("4", fit_d_slope, fit_d_intercept)

# ---- axes ----
boxes = {"": (103, 728, 44, 462), "2": (859, 1484, 44, 462), "3": (103, 728, 592, 1010), "4": (859, 1484, 592, 1010)}
tick_font = dict(family=FONT, size=18, color="black")
title_font = dict(family=FONT, size=18.8, color="black")
for k, (l, r, t, b) in boxes.items():
    common = dict(showgrid=False, zeroline=False, showline=True, linecolor="black", linewidth=1.7, mirror=True,
                  ticks="outside", ticklen=8, tickwidth=1.4, tickcolor="black", tickfont=tick_font)
    fig.update_layout(**{
        "xaxis" + k: dict(common, domain=[l / W, r / W], range=X_RANGE, tickmode="array", tickvals=x_ticks,
                          anchor="y" + k, ticklabelstandoff=-3,
                          title=dict(text="16S rRNA gene similarity (%)", font=title_font, standoff=12)),
        "yaxis" + k: dict(common, domain=[1 - b / H, 1 - t / H], range=Y_RANGE, tickmode="array", tickvals=y_ticks,
                          tickangle=-90, anchor="x" + k,
                          title=dict(text="<i>dsrAB</i> gene similarity (%)", font=title_font, standoff=7)),
    })

# ---- legends, panel letters, equations ----
shapes, notes = [], []


def text(x, y, s, size=16, color="black", xanchor="left"):
    notes.append(dict(x=x / W, y=1 - y / H, xref="paper", yref="paper", text=s, showarrow=False, xanchor=xanchor,
                      yanchor="middle", borderpad=0, font=dict(family=FONT, size=size, color=color)))


def legend(box, mx, tx, rows):
    shapes.append(dict(type="rect", xref="paper", yref="paper", x0=box[0] / W, x1=box[1] / W, y0=1 - box[3] / H,
                       y1=1 - box[2] / H, fillcolor="#e3e3e3", line=dict(width=0), layer="above"))
    for y, color, s in rows:
        text(tx, y - 1, s)
        if color:
            shapes.append(dict(type="circle", xref="paper", yref="paper", x0=(mx - 3) / W, x1=(mx + 3) / W,
                               y0=1 - (y + 3) / H, y1=1 - (y - 3) / H, line=dict(color=color, width=1.2), layer="above"))


D = "<i>dsrAB</i>"
legend((116, 354, 54, 236), 133, 142, [
    (68, BLUE, "reductive bacterial " + D), (90, YELLOW, "oxidative " + D), (113, RED, "archaeal " + D),
    (135, GREEN, "oxidative vs red. bact. " + D), (158, PURPLE, "archaeal vs red. bact. " + D),
    (181, ORANGE, "archaeal vs oxidative " + D), (204, BLACK, "<i>M. thermoacetica dsrAB</i>"), (223, None, "copy 2 vs everything")])
legend((872, 1138, 54, 168), 886, 895, [
    (68, BLACK, "non-LA reductive bacterial " + D), (90, AQUA, "LA-<i>dsrAB Firmicutes</i>"),
    (113, YELLOW, "non-LA-<i>dsrAB Firmicutes</i>"), (136, MAGENTA, "LA-<i>dsrAB Firmicutes</i> vs"),
    (155, None, "non-LA-<i>dsrAB Firmicutes</i>")])
legend((116, 388, 606, 765), 133, 143, [
    (618, BLACK, "non-LA reductive bacterial " + D), (641, YELLOW, "<i>Thermodesulfobacteria</i>"),
    (663, LAVENDER, "<i>Archaeoglobus</i>"), (686, RED, "<i>Crenarchaeota</i>"), (709, AQUA, "<i>Gordonibacter</i>"),
    (731, DARKPURPLE, "pSL4 aigarchaeon"), (754, ORANGE, "<i>Caldiserica</i>")])
legend((876, 1031, 606, 652), 886, 895, [(618, BLACK, "oxidative " + D), (641, RED, "<i>T. nitratireducens</i>")])

for s, x, y in (("A", 21, 21), ("B", 777, 21), ("C", 21, 551), ("D", 777, 551)):
    notes.append(dict(x=x / W, y=1 - y / H, xref="paper", yref="paper", text=s, showarrow=False, xanchor="center",
                      yanchor="middle", font=dict(family=FONT, size=32, color="black")))
text(1484, 33, fit_label_all, size=16, color=BLUE, xanchor="right")
text(728, 581, fit_label_all, size=16, color=BLUE, xanchor="right")
text(1484, 581, fit_label_ox, size=16, color=BLUE, xanchor="right")

fig.update_layout(width=W, height=H, margin=dict(l=0, r=0, t=0, b=0), paper_bgcolor="white", plot_bgcolor="white",
                  showlegend=False, shapes=shapes, annotations=notes, font=dict(family=FONT))
fig.write_html("out.html", config={"displayModeBar": False}, post_script="document.body.style.margin='0';")
